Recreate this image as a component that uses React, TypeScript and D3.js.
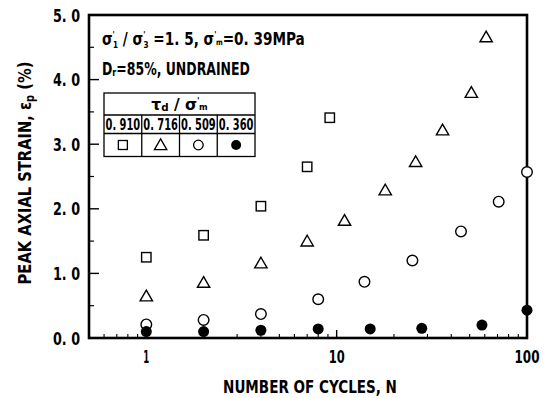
import React, { useLayoutEffect, useRef, useState } from "react";
import * as d3 from "d3";

// Peak axial strain vs. number of cycles for four stress ratios
const squareN = [1, 2, 4, 7, 9.2];
const squareV = [1.25, 1.59, 2.04, 2.65, 3.41];
const triangleN = [1, 2, 4, 7, 11, 18, 26, 36, 51, 61];
const triangleV = [0.63, 0.84, 1.14, 1.48, 1.8, 2.27, 2.71, 3.2, 3.78, 4.64];
const circleN = [1, 2, 4, 8, 14, 25, 45, 71, 100];
const circleV = [0.21, 0.28, 0.37, 0.6, 0.87, 1.2, 1.65, 2.11, 2.57];
const dotN = [1, 2, 4, 8, 15, 28, 58, 100];
const dotV = [0.1, 0.1, 0.12, 0.14, 0.14, 0.15, 0.2, 0.43];

const ratioLabels = ["0. 910", "0. 716", "0. 509", "0. 360"];
const yTickValues = [0, 1, 2, 3, 4, 5];
const yTickLabels = ["0. 0", "1. 0", "2. 0", "3. 0", "4. 0", "5. 0"];
const xTickValues = [1, 10, 100];
const xTickLabels = ["1", "10", "100"];

const W = 546;
const H = 398;
const FONT = "'DejaVu Sans Condensed', 'Liberation Sans Narrow', 'DejaVu Sans', sans-serif";

// Text squeezed horizontally to a given width (condensed gothic look)
function FitText({
  x,
  y,
  w,
  anchor = "start",
  size = 17,
  weight = 600,
  rotate = 0,
  children,
}: {
  x: number;
  y: number;
  w: number;
  anchor?: "start" | "middle" | "end";
  size?: number;
  weight?: number;
  rotate?: number;
  children: React.ReactNode;
}) {
  const ref = useRef<SVGTextElement>(null);
  const [s, setS] = useState(1);
  useLayoutEffect(() => {
    if (!ref.current) return;
    const L = ref.current.getComputedTextLength();
    if (L > 0) setS(w / L);
  }, [w]);
  return (
    <text
      ref={ref}
      transform={`translate(${x},${y}) rotate(${rotate}) scale(${s},1)`}
      textAnchor={anchor}
      fontFamily={FONT}
      fontSize={size}
      fontWeight={weight}
      fill="#000"
    >
      {children}
    </text>
  );
}

export default function App() {
  const x = d3.scaleLog().domain([0.5, 100]).range([89, 527]);
  const y = d3.scaleLinear().domain([0, 5]).range([338, 15]);
  const [x0, x1] = x.range();
  const [y0, y1] = y.range();

  const minorX: number[] = [];
  for (const dec of [0.1, 1, 10]) {
    for (let k = 2; k < 10; k++) {
      const v = dec * k;
      if (v > 0.5 && v < 100) minorX.push(v);
    }
  }
  const minorY = d3.range(0.5, 5, 1);

  const tri = d3.symbol().type(d3.symbolTriangle).size(66)() as string;

  // legend table geometry
  const tx0 = 104,
    tx1 = 255;
  const ty = [93, 115, 133.5, 156.5];
  const colW = (tx1 - tx0) / 4;

  return (
    <svg width={W} height={H} style={{ position: "absolute", left: 0, top: 0, background: "#fff" }}>
      <rect width={W} height={H} fill="#fff" />
      {/* frame */}
      <rect x={x0} y={y1} width={x1 - x0} height={y0 - y1} fill="none" stroke="#000" strokeWidth={2.6} />

      {/* y ticks */}
      {yTickValues.map((v, i) => (
        <g key={"yt" + v}>
          {v > 0 && v < 5 && <line x1={x0} x2={x0 + 10} y1={y(v)} y2={y(v)} stroke="#000" strokeWidth={1.4} />}
          <FitText x={80} y={y(v) + 6.5} w={27} anchor="end" size={18}>
            {yTickLabels[i]}
          </FitText>
        </g>
      ))}
      {minorY.map((v) => (
        <line key={"ym" + v} x1={x0} x2={x0 + 5} y1={y(v)} y2={y(v)} stroke="#000" strokeWidth={1.2} />
      ))}

      {/* x ticks */}
      {xTickValues.map((v, i) => (
        <g key={"xt" + v}>
          {v < 100 && <line x1={x(v)} x2={x(v)} y1={y0} y2={y0 - 8} stroke="#000" strokeWidth={1.4} />}
          <FitText x={x(v)} y={363} w={[6, 16, 25][i]} anchor="middle" size={18}>
            {xTickLabels[i]}
          </FitText>
        </g>
      ))}
      {minorX.map((v) => (
        <line key={"xm" + v} x1={x(v)} x2={x(v)} y1={y0} y2={y0 - 4} stroke="#000" strokeWidth={1.1} />
      ))}

      {/* axis titles */}
      <FitText x={310} y={393} w={174} anchor="middle" size={17}>
        NUMBER OF CYCLES,  N
      </FitText>
      <FitText x={31} y={173} w={223} anchor="middle" size={18} rotate={-90}>
        PEAK AXIAL STRAIN,  ε<tspan fontSize={12} dy={3}>p</tspan>
        <tspan dy={-3}> (%)</tspan>
      </FitText>

      {/* test conditions */}
      <FitText x={102} y={45} w={207} size={17}>
        σ<tspan fontSize={9} dy={-7}>'</tspan>
        <tspan fontSize={9} dx={-2} dy={10}>1</tspan>
        <tspan dy={-3}> / σ</tspan>
        <tspan fontSize={9} dy={-7}>'</tspan>
        <tspan fontSize={9} dx={-2} dy={10}>3</tspan>
        <tspan dy={-3}> =1. 5,  σ</tspan>
        <tspan fontSize={9} dy={-7}>'</tspan>
        <tspan fontSize={8} dx={-0.5} dy={7}>m</tspan>
        <tspan>=0. 39MPa</tspan>
      </FitText>
      <FitText x={102} y={75} w={148} size={17}>
        D<tspan fontSize={11} dy={1}>r</tspan>
        <tspan dy={-1}>=85%, UNDRAINED</tspan>
      </FitText>

      {/* legend table */}
      <rect x={tx0} y={ty[0]} width={tx1 - tx0} height={ty[3] - ty[0]} fill="#fff" stroke="#000" strokeWidth={1.3} />
      <line x1={tx0} x2={tx1} y1={ty[1]} y2={ty[1]} stroke="#000" strokeWidth={1.3} />
      <line x1={tx0} x2={tx1} y1={ty[2]} y2={ty[2]} stroke="#000" strokeWidth={1.3} />
      {[1, 2, 3].map((c) => (
        <line key={"tc" + c} x1={tx0 + c * colW} x2={tx0 + c * colW} y1={ty[1]} y2={ty[3]} stroke="#000" strokeWidth={1.3} />
      ))}
      <FitText x={(tx0 + tx1) / 2} y={110} w={57} anchor="middle" size={15} weight={700}>
        τ<tspan fontSize={10} dy={1}>d</tspan>
        <tspan dy={-1}> / σ</tspan>
        <tspan fontSize={8} dy={-6}>'</tspan>
        <tspan fontSize={8} dx={-0.5} dy={6}>m</tspan>
      </FitText>
      {ratioLabels.map((t, i) => (
        <FitText key={t} x={tx0 + i * colW + colW / 2} y={130} w={colW - 3} anchor="middle" size={15}>
          {t}
        </FitText>
      ))}
      {[0, 1, 2, 3].map((i) => {
        const cx = tx0 + i * colW + colW / 2;
        const cy = (ty[2] + ty[3]) / 2;
        if (i === 0) return <rect key="ls" x={cx - 4.5} y={cy - 4.5} width={9} height={9} fill="#fff" stroke="#000" strokeWidth={1.3} />;
        if (i === 1) return <path key="lt" d={tri} transform={`translate(${cx},${cy + 1})`} fill="#fff" stroke="#000" strokeWidth={1.3} />;
        if (i === 2) return <circle key="lc" cx={cx} cy={cy} r={4.8} fill="#fff" stroke="#000" strokeWidth={1.3} />;
        return <circle key="ld" cx={cx} cy={cy} r={5} fill="#000" />;
      })}

      {/* data */}
      {circleN.map((n, i) => (
        <circle key={"c" + i} cx={x(n)} cy={y(circleV[i])} r={5.3} fill="#fff" stroke="#000" strokeWidth={1.4} />
      ))}
      {dotN.map((n, i) => (
        <circle key={"d" + i} cx={x(n)} cy={y(dotV[i])} r={5.5} fill="#000" />
      ))}
      {squareN.map((n, i) => (
        <rect key={"s" + i} x={x(n) - 4.7} y={y(squareV[i]) - 4.7} width={9.4} height={9.4} fill="#fff" stroke="#000" strokeWidth={1.4} />
      ))}
      {triangleN.map((n, i) => (
        <path key={"t" + i} d={tri} transform={`translate(${x(n)},${y(triangleV[i])})`} fill="#fff" stroke="#000" strokeWidth={1.4} />
      ))}
    </svg>
  );
}
